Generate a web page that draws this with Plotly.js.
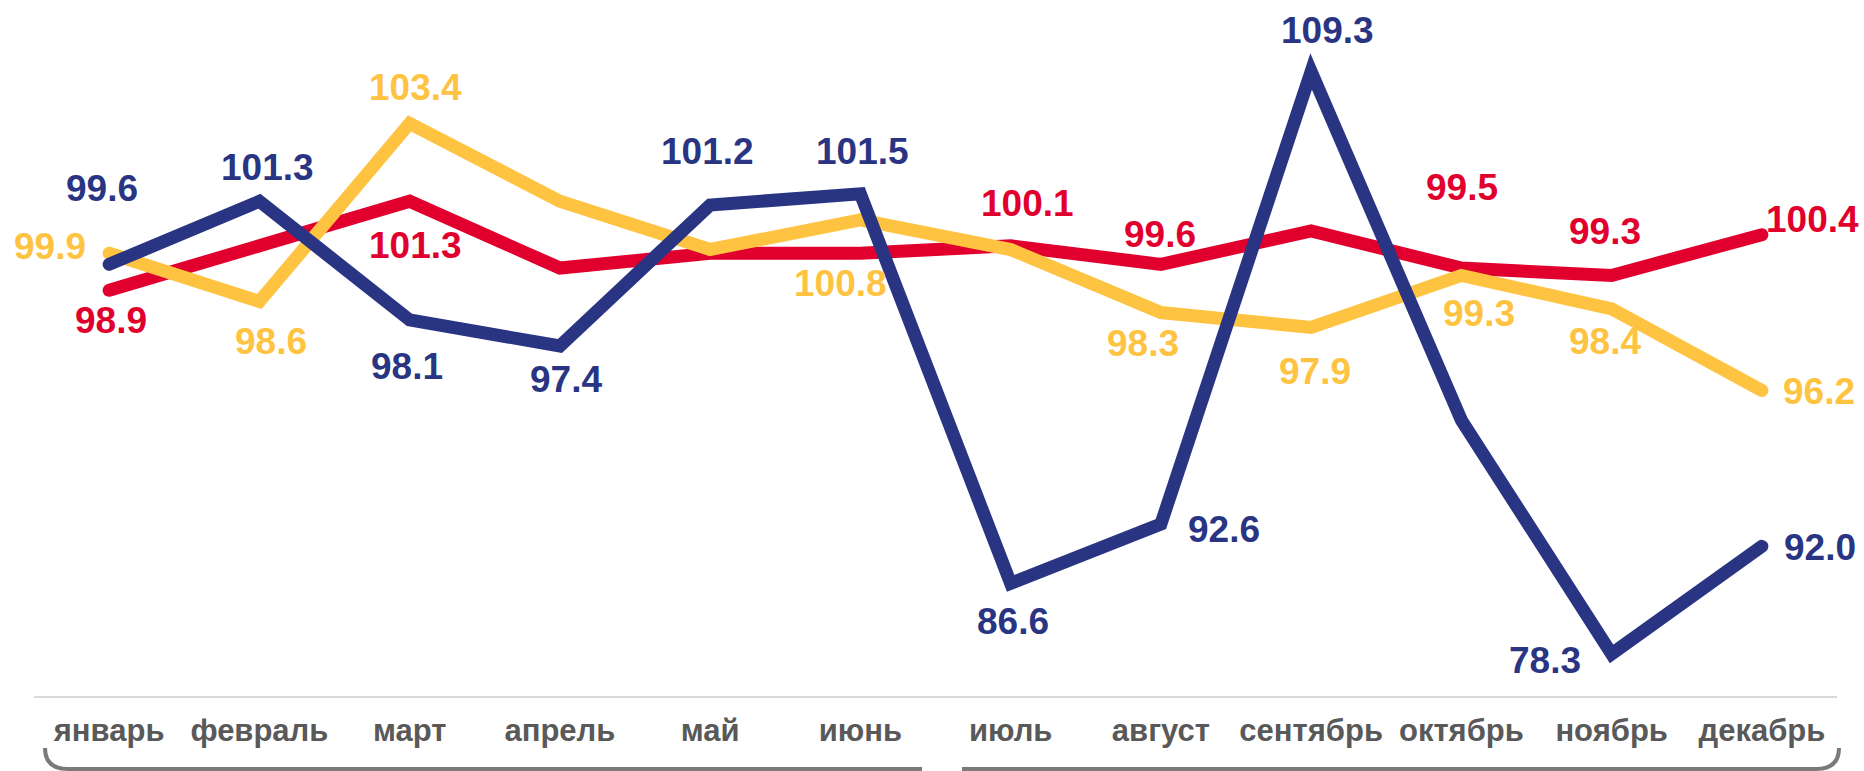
<!DOCTYPE html>
<html>
<head>
<meta charset="utf-8">
<script src="https://cdn.plot.ly/plotly-3.0.1.min.js"></script>
<style>
  html, body { margin: 0; padding: 0; background: #ffffff; }
  #chart { width: 1864px; height: 771px; }
  .js-line { stroke-linecap: round; stroke-linejoin: miter; stroke-miterlimit: 4; }
</style>
</head>
<body>
<div id="chart"></div>
<script>
// ---- data ----
const months = ['январь','февраль','март','апрель','май','июнь','июль','август','сентябрь','октябрь','ноябрь','декабрь'];

// red series: drawn values and shown labels
const redValues  = [98.9, 100.1, 101.3, 99.5, 99.9, 99.9, 100.1, 99.6, 100.5, 99.5, 99.3, 100.4];
const redLabels  = ['98.9', '', '101.3', '', '', '', '100.1', '99.6', '', '99.5', '99.3', '100.4'];

// yellow series
const yellowValues = [99.9, 98.6, 103.4, 101.3, 100.0, 100.8, 100.0, 98.3, 97.9, 99.3, 98.4, 96.2];
const yellowLabels = ['99.9', '98.6', '103.4', '', '', '100.8', '', '98.3', '97.9', '99.3', '98.4', '96.2'];

// blue series: the reference draws the extreme months on a truncated scale,
// so the drawn values differ from the printed labels for those months
const blueValues = [99.6, 101.3, 98.1, 97.4, 101.2, 101.5, 91.0, 92.6, 104.8, 95.4, 89.1, 92.0];
const blueLabels = ['99.6', '101.3', '98.1', '97.4', '101.2', '101.5', '86.6', '92.6', '109.3', '', '78.3', '92.0'];

// ---- styling ----
const RED = '#E1002D', YELLOW = '#FFC342', BLUE = '#293583', GREY = '#595959';
const FONT = 'Liberation Sans, Arial, sans-serif';

// label offsets in pixels [dx, dy(up)] per point
const redOff    = [[2,-30],[0,0],[6,-44],[0,0],[0,0],[0,0],[17,42],[-1,30],[0,0],[1,81],[-7,44],[51,15]];
const yellowOff = [[-59,7],[12,-40],[6,36],[0,0],[0,0],[-20,-64],[0,0],[-18,-31],[4,-44],[18,-38],[-7,-33],[57,-1]];
const blueOff   = [[-7,76],[8,34],[-3,-47],[6,-34],[-3,53],[2,42],[2,-38],[63,-5],[16,41],[0,0],[-67,-7],[58,-1]];

const L = 34, R = 27, T = 0, B = 75, W = 1864, H = 771;
const PW = W - L - R, PH = H - T - B;
const px = x => (x - L) / PW;
const py = y => (T + PH - y) / PH;

function trace(vals, color) {
  return {
    type: 'scatter', mode: 'lines', x: months, y: vals,
    line: { color: color, width: 13 }, hoverinfo: 'skip', cliponaxis: false
  };
}

const annotations = [];
function addLabels(vals, labels, offs, color) {
  labels.forEach((t, i) => {
    if (!t) return;
    annotations.push({
      x: months[i], y: vals[i], xref: 'x', yref: 'y', text: t, showarrow: false,
      xanchor: 'center', yanchor: 'middle', xshift: offs[i][0], yshift: offs[i][1],
      font: { family: FONT, size: 37, color: color, weight: 700 }
    });
  });
}
addLabels(redValues, redLabels, redOff, RED);
addLabels(yellowValues, yellowLabels, yellowOff, YELLOW);
addLabels(blueValues, blueLabels, blueOff, BLUE);

const shapes = [
  { type: 'path', xref: 'paper', yref: 'paper',
    path: `M ${px(45)},${py(748)} Q ${px(45)},${py(769)} ${px(68)},${py(769)} L ${px(922)},${py(769)}`,
    line: { color: '#7a7a7a', width: 4 } },
  { type: 'path', xref: 'paper', yref: 'paper',
    path: `M ${px(962)},${py(769)} L ${px(1816)},${py(769)} Q ${px(1839)},${py(769)} ${px(1839)},${py(748)}`,
    line: { color: '#7a7a7a', width: 4 } }
];

const layout = {
  width: W, height: H,
  margin: { l: L, r: R, t: T, b: B, pad: 0 },
  paper_bgcolor: '#ffffff', plot_bgcolor: '#ffffff',
  showlegend: false,
  xaxis: {
    type: 'category', range: [-0.5, 11.5], fixedrange: true,
    showgrid: false, zeroline: false,
    showline: true, linecolor: '#d9d9d9', linewidth: 2,
    ticks: '', ticklabelstandoff: 6,
    tickfont: { family: FONT, size: 31, color: GREY, weight: 700 }
  },
  yaxis: {
    range: [87.965, 106.725], visible: false, fixedrange: true,
    showgrid: false, zeroline: false
  },
  annotations: annotations,
  shapes: shapes
};

Plotly.newPlot('chart', [trace(redValues, RED), trace(yellowValues, YELLOW), trace(blueValues, BLUE)], layout,
  { staticPlot: true, displayModeBar: false });
</script>
</body>
</html>
